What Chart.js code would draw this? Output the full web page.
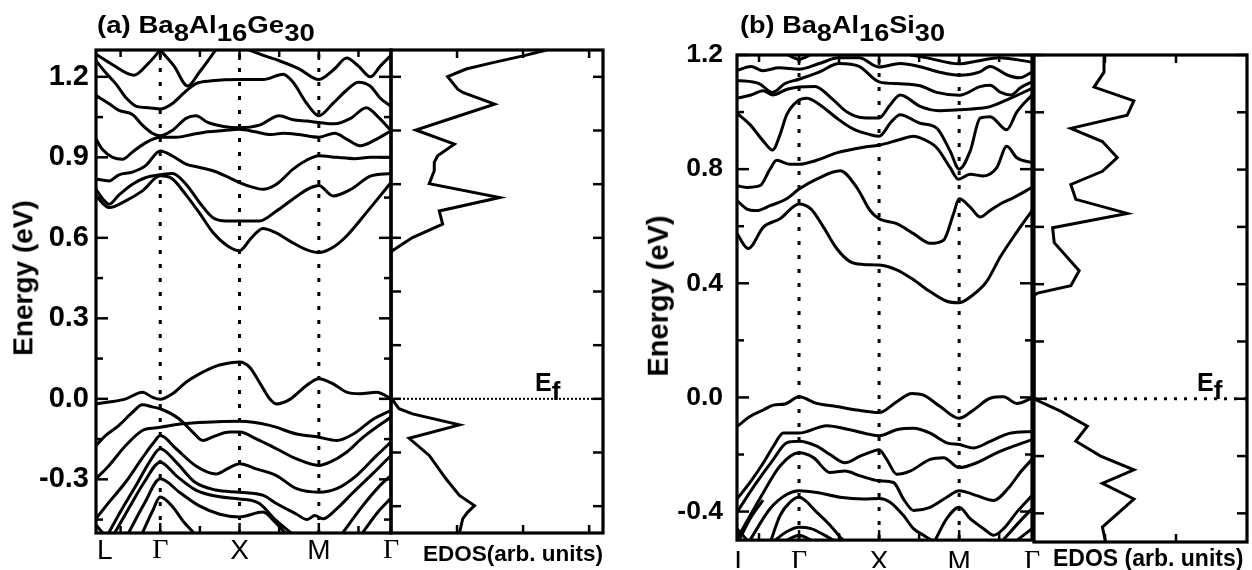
<!DOCTYPE html>
<html><head><meta charset="utf-8">
<script src="https://cdn.jsdelivr.net/npm/chart.js@4.4.0/dist/chart.umd.min.js"></script>
<style>
html,body{margin:0;padding:0;background:#fff}
#root{position:relative;width:1252px;height:570px;overflow:hidden;background:#fff;font-family:"Liberation Sans",Arial,Helvetica,sans-serif;color:#000}
canvas{position:absolute;display:block}
.lbl{position:absolute;font-weight:bold;white-space:nowrap;line-height:1}
.sub{position:relative;top:8px}
.rot{position:absolute;font-weight:bold;white-space:nowrap;line-height:1.117;transform:translate(-50%,-50%) rotate(-90deg)}
</style></head><body><div id="root">
<canvas id="cBandA" width="430" height="570" style="left:0;top:0"></canvas>
<canvas id="cDosA" width="240" height="570" style="left:380px;top:0"></canvas>
<canvas id="cBandB" width="430" height="570" style="left:630px;top:0"></canvas>
<canvas id="cDosB" width="232" height="570" style="left:1020px;top:0"></canvas>

<div class="lbl" style="left:97px;top:13px;font-size:24px;transform:scaleX(1.15);transform-origin:0 0">(a) Ba<span class="sub">8</span>Al<span class="sub">16</span>Ge<span class="sub">30</span></div>
<div class="lbl" style="left:740px;top:13px;font-size:24px;transform:scaleX(1.13);transform-origin:0 0">(b) Ba<span class="sub">8</span>Al<span class="sub">16</span>Si<span class="sub">30</span></div>
<div class="rot" style="left:23px;top:278px;font-size:28px">Energy (eV)</div>
<div class="rot" style="left:658px;top:296px;font-size:29px">Energy (eV)</div>
<div class="lbl" style="left:423px;top:543px;font-size:22.5px">EDOS(arb. units)</div>
<div class="lbl" style="left:1053px;top:547px;font-size:23px">EDOS (arb. units)</div>
<div class="lbl" style="left:535px;top:369px;font-size:25px">E<span style="position:relative;top:9px;font-size:26px">f</span></div>
<div class="lbl" style="left:1197px;top:369px;font-size:25px">E<span style="position:relative;top:8px;font-size:26px">f</span></div>
</div>
<script>
// ---------- shared axis data ----------
const hsLabels = ['L','Γ','X','M','Γ'];
const hsA = [-1.62, 0, 2, 4, 5.82];          // k of L, Γ, X, M, Γ (panel a)
const hsB = [-1.55, 0, 2, 4, 5.82];          // panel b
const labelPosA = [-1.4, 0, 2, 4, 5.82];
const labelPosB = [-1.42, 0, 2, 4, 5.82];
const kTicks = [-1, 0, 1, 2, 3, 4, 5];
const kMajor = [0, 2, 4];
const yTicksA = [-0.45,-0.3,-0.15,0,0.15,0.3,0.45,0.6,0.75,0.9,1.05,1.2];
const yLabelsA = [-0.3,0,0.3,0.6,0.9,1.2];
const yTicksB = [-0.4,-0.2,0,0.2,0.4,0.6,0.8,1.0,1.2];
const yLabelsB = [-0.4,0,0.4,0.8,1.2];
const edosYTicks = [-0.4,-0.2,0,0.2,0.4,0.6,0.8,1.0,1.2];
const edosXTicksA = [1,2,3];
const edosXTicksB = [1,2];

// ---------- panel (a) Ba8Al16Ge30 bands : [k, E(eV)] ----------
const conductionA = [
 [[-1.62,0.756],[-1.29,0.713],[-0.87,0.738],[-0.45,0.775],[0,0.831],[0.3,0.82],[0.65,0.76],[1.0,0.69],[1.33,0.62],[1.7,0.57],[2.0,0.552],[2.3,0.60],[2.59,0.635],[2.9,0.62],[3.3,0.585],[3.7,0.555],[4.0,0.545],[4.36,0.565],[4.7,0.607],[5.2,0.694],[5.82,0.806]],
 [[-1.62,0.781],[-1.45,0.745],[-1.29,0.725],[-1.04,0.76],[-0.70,0.80],[-0.36,0.825],[0,0.835],[0.31,0.84],[0.65,0.80],[1.0,0.73],[1.33,0.675],[1.66,0.663],[2.0,0.663],[2.5,0.663],[2.93,0.70],[3.35,0.745],[3.77,0.785],[4.0,0.795],[4.36,0.756],[4.8,0.78],[5.3,0.83],[5.82,0.84]],
 [[-1.62,0.819],[-1.29,0.812],[-1.04,0.835],[-0.7,0.845],[-0.36,0.87],[0,0.924],[0.31,0.905],[0.65,0.875],[1.0,0.862],[1.33,0.85],[1.66,0.83],[2.0,0.806],[2.3,0.79],[2.59,0.781],[2.93,0.80],[3.35,0.856],[3.7,0.89],[4.0,0.906],[4.45,0.90],[4.9,0.895],[5.3,0.90],[5.82,0.90]],
 [[-1.62,0.968],[-1.46,0.93],[-1.2,0.90],[-0.95,0.893],[-0.7,0.92],[-0.36,0.955],[0,0.975],[0.4,0.975],[0.8,0.985],[1.2,0.995],[1.6,1.0],[2.0,1.005],[2.4,0.995],[2.8,0.985],[3.1,0.99],[3.5,0.985],[4.0,0.975],[4.4,0.99],[4.7,0.968],[5.04,0.943],[5.46,0.968],[5.82,0.999]],
 [[-1.62,1.13],[-1.29,1.10],[-1.04,1.075],[-0.70,1.06],[-0.45,1.02],[-0.2,0.99],[0,0.98],[0.3,1.0],[0.65,1.045],[0.9,1.055],[1.2,1.03],[1.6,1.015],[2.0,1.01],[2.5,1.02],[3.0,1.055],[3.35,1.04],[3.7,1.035],[4.0,1.03],[4.4,1.025],[4.8,1.045],[5.2,1.085],[5.5,1.05],[5.82,1.0]],
 [[-1.62,1.26],[-1.4,1.22],[-1.1,1.17],[-0.85,1.12],[-0.6,1.09],[-0.3,1.085],[0,1.08],[0.3,1.10],[0.6,1.14],[0.9,1.175],[1.3,1.185],[2.0,1.19],[2.6,1.19],[3.1,1.21],[3.35,1.18],[3.7,1.10],[4.0,1.055],[4.35,1.10],[4.7,1.15],[5.0,1.18],[5.3,1.165],[5.55,1.12],[5.82,1.09]],
 [[-1.62,1.284],[-1.2,1.245],[-0.66,1.206],[-0.3,1.25],[0,1.30]],
 [[0,1.30],[0.35,1.24],[0.69,1.166],[1.0,1.22],[1.35,1.29],[1.5,1.32]],
 [[1.9,1.32],[2.6,1.28],[3.0,1.26],[3.5,1.23],[4.0,1.19],[4.4,1.23],[4.7,1.27],[5.0,1.24],[5.3,1.20],[5.55,1.24],[5.82,1.28]]
];
const valenceA = [
 [[-1.62,-0.019],[-1.29,-0.012],[-0.87,0.0],[-0.45,0.025],[-0.2,0.006],[0,-0.002],[0.31,0.019],[0.65,0.062],[0.99,0.093],[1.41,0.122],[1.83,0.135],[2.0,0.137],[2.25,0.118],[2.5,0.062],[2.76,0.0],[2.93,-0.019],[3.27,-0.002],[3.69,0.05],[4.0,0.075],[4.36,0.056],[4.7,0.025],[5.04,0.019],[5.46,0.025],[5.82,0.0]],
 [[-1.62,-0.174],[-1.38,-0.137],[-1.04,-0.099],[-0.7,-0.05],[-0.45,-0.022],[-0.2,-0.03],[0,-0.037],[0.48,-0.075],[0.82,-0.124],[1.07,-0.155],[1.41,-0.137],[1.75,-0.124],[2.0,-0.124],[2.42,-0.149],[2.93,-0.186],[3.44,-0.224],[4.0,-0.248],[4.28,-0.236],[4.7,-0.199],[5.12,-0.143],[5.82,-0.068]],
 [[-1.62,-0.298],[-1.29,-0.248],[-0.87,-0.174],[-0.45,-0.118],[-0.1,-0.108],[0,-0.106],[0.56,-0.093],[1.16,-0.087],[2.0,-0.084],[2.76,-0.099],[3.44,-0.131],[4.0,-0.143],[4.45,-0.155],[4.87,-0.131],[5.38,-0.075],[5.82,-0.043]],
 [[-1.62,-0.447],[-1.29,-0.385],[-0.87,-0.31],[-0.45,-0.22],[-0.15,-0.16],[0,-0.137],[0.4,-0.186],[0.9,-0.25],[1.41,-0.28],[1.75,-0.256],[2.0,-0.242],[2.42,-0.261],[2.93,-0.286],[3.44,-0.335],[4.0,-0.348],[4.45,-0.335],[4.95,-0.286],[5.46,-0.211],[5.82,-0.161]],
 [[-1.3,-0.5],[-1.0,-0.42],[-0.6,-0.32],[-0.25,-0.23],[0,-0.186],[0.4,-0.236],[0.87,-0.31],[1.4,-0.34],[2.0,-0.348],[2.6,-0.36],[2.93,-0.39],[3.44,-0.43],[3.7,-0.45],[3.9,-0.435],[4.1,-0.447],[4.45,-0.41],[4.87,-0.348],[5.38,-0.276],[5.82,-0.211]],
 [[-1.15,-0.5],[-0.8,-0.41],[-0.4,-0.31],[0,-0.236],[0.4,-0.286],[0.9,-0.34],[1.5,-0.365],[2.0,-0.373],[2.5,-0.39],[2.9,-0.45],[3.3,-0.5]],
 [[-0.8,-0.5],[-0.4,-0.39],[0,-0.298],[0.5,-0.35],[1.0,-0.40],[1.5,-0.43],[2.0,-0.44],[2.59,-0.422],[2.9,-0.46],[3.15,-0.5]],
 [[-0.45,-0.5],[-0.2,-0.42],[0,-0.366],[0.3,-0.40],[0.6,-0.46],[0.85,-0.5]],
 [[4.6,-0.5],[5.1,-0.4],[5.5,-0.33],[5.82,-0.285]],
 [[5.1,-0.5],[5.5,-0.42],[5.82,-0.37]],
 [[-1.62,-0.47],[-1.45,-0.5]]
];

// ---------- panel (b) Ba8Al16Si30 bands : [k, E(eV)] ----------
const conductionB = [
 [[-1.55,0.574],[-1.27,0.522],[-0.89,0.597],[-0.475,0.626],[0,0.678],[0.3,0.66],[0.61,0.597],[0.94,0.522],[1.275,0.476],[1.6,0.466],[2.0,0.464],[2.44,0.447],[2.86,0.412],[3.28,0.37],[3.69,0.337],[4.0,0.332],[4.35,0.36],[4.69,0.407],[5.03,0.493],[5.36,0.563],[5.82,0.655]],
 [[-1.55,0.69],[-1.31,0.661],[-1.06,0.655],[-0.725,0.672],[-0.31,0.696],[0,0.73],[0.44,0.765],[1.03,0.794],[1.44,0.736],[1.775,0.655],[2.0,0.626],[2.44,0.609],[2.86,0.574],[3.28,0.54],[3.61,0.551],[3.86,0.644],[4.0,0.696],[4.275,0.667],[4.525,0.632],[4.775,0.655],[5.025,0.678],[5.36,0.70],[5.82,0.736]],
 [[-1.55,0.742],[-1.31,0.736],[-0.975,0.742],[-0.725,0.80],[-0.56,0.831],[-0.225,0.817],[0,0.817],[0.44,0.831],[0.94,0.857],[1.61,0.877],[2.0,0.884],[2.525,0.904],[2.86,0.915],[3.1,0.905],[3.44,0.875],[3.775,0.805],[3.98,0.765],[4.275,0.782],[4.61,0.776],[4.94,0.805],[5.19,0.88],[5.44,0.84],[5.82,0.823]],
 [[-1.55,0.996],[-1.225,0.956],[-0.89,0.898],[-0.66,0.867],[-0.475,0.921],[-0.31,0.99],[-0.06,1.036],[0.19,1.048],[0.525,1.025],[0.94,0.979],[1.36,0.94],[1.775,0.921],[2.0,0.915],[2.3,0.965],[2.525,0.991],[3.025,0.961],[3.44,0.944],[3.775,0.863],[4.0,0.80],[4.275,0.863],[4.525,0.979],[4.775,0.984],[5.19,0.938],[5.44,1.0],[5.82,1.06]],
 [[-1.55,1.048],[-1.2,1.06],[-0.9,1.075],[-0.66,1.06],[-0.3,1.08],[0,1.088],[0.4,1.09],[0.8,1.05],[1.2,1.0],[1.6,0.98],[2.0,0.979],[2.25,1.02],[2.525,1.06],[3.025,1.02],[3.5,1.005],[4.0,1.008],[4.525,1.013],[4.775,1.019],[5.275,1.048],[5.82,1.083]],
 [[-1.55,1.111],[-1.0,1.10],[-0.66,1.069],[-0.35,1.10],[0,1.115],[0.5,1.14],[1.0,1.17],[1.5,1.16],[2.0,1.106],[2.525,1.099],[3.025,1.092],[3.44,1.069],[4.0,1.059],[4.525,1.089],[4.775,1.094],[5.025,1.07],[5.3,1.06],[5.53,1.085],[5.82,1.106]],
 [[-1.55,1.146],[-1.2,1.16],[-0.9,1.145],[-0.5,1.155],[0,1.15],[0.5,1.17],[1.0,1.19],[1.5,1.19],[2.0,1.158],[2.525,1.17],[3.0,1.16],[3.5,1.14],[4.0,1.129],[4.5,1.14],[4.775,1.16],[5.2,1.13],[5.5,1.12],[5.82,1.14]],
 [[-0.4,1.21],[0,1.185],[0.4,1.21]],
 [[2.4,1.21],[3.2,1.19],[4.0,1.169],[4.5,1.18],[5.0,1.19],[5.82,1.175]]
];
const valenceB = [
 [[-1.55,-0.102],[-1.225,-0.067],[-0.89,-0.044],[-0.64,-0.027],[-0.35,-0.023],[0,0.002],[0.44,-0.021],[0.94,-0.032],[1.44,-0.044],[2.0,-0.053],[2.44,-0.015],[2.82,0.014],[3.11,0.008],[3.525,-0.032],[4.0,-0.073],[4.36,-0.044],[4.775,-0.003],[5.11,0.002],[5.44,-0.021],[5.82,-0.003]],
 [[-1.55,-0.356],[-1.225,-0.298],[-0.89,-0.229],[-0.64,-0.171],[-0.39,-0.125],[0,-0.125],[0.69,-0.099],[1.275,-0.113],[2.0,-0.134],[2.44,-0.113],[2.86,-0.108],[3.275,-0.125],[3.69,-0.159],[4.0,-0.165],[4.36,-0.177],[4.775,-0.154],[5.275,-0.125],[5.82,-0.119]],
 [[-1.55,-0.402],[-1.06,-0.298],[-0.64,-0.217],[-0.31,-0.159],[0,-0.154],[0.44,-0.171],[0.775,-0.2],[1.15,-0.229],[1.525,-0.206],[1.86,-0.188],[2.0,-0.183],[2.19,-0.217],[2.44,-0.269],[2.775,-0.258],[3.275,-0.217],[3.61,-0.211],[4.0,-0.246],[4.44,-0.229],[4.94,-0.194],[5.36,-0.171],[5.82,-0.148]],
 [[-1.55,-0.495],[-0.89,-0.333],[-0.475,-0.24],[0,-0.194],[0.36,-0.211],[0.775,-0.263],[1.15,-0.258],[1.525,-0.275],[2.0,-0.292],[2.36,-0.298],[2.61,-0.356],[2.86,-0.396],[3.275,-0.385],[3.69,-0.35],[4.0,-0.327],[4.44,-0.344],[4.86,-0.361],[5.275,-0.31],[5.525,-0.263],[5.82,-0.217]],
 [[-1.225,-0.5],[-0.725,-0.39],[-0.31,-0.34],[0,-0.327],[0.44,-0.333],[1.025,-0.35],[1.61,-0.356],[2.0,-0.354],[2.275,-0.367],[2.61,-0.414],[2.86,-0.46],[3.11,-0.483],[3.3,-0.5]],
 [[3.4,-0.5],[3.69,-0.425],[4.0,-0.385],[4.275,-0.425],[4.61,-0.46],[4.86,-0.483],[5.11,-0.46],[5.44,-0.402],[5.82,-0.344]],
 [[-0.7,-0.5],[-0.475,-0.414],[-0.225,-0.367],[0,-0.35],[0.44,-0.402],[0.775,-0.448],[1.025,-0.489],[1.1,-0.5]],
 [[-0.6,-0.5],[-0.3,-0.47],[0,-0.455],[0.3,-0.46],[0.6,-0.48],[0.85,-0.5]],
 [[-0.3,-0.5],[0,-0.483],[0.3,-0.5]],
 [[-1.55,-0.46],[-1.3,-0.5]],
 [[-1.5,-0.5],[-1.2,-0.42],[-0.9,-0.36]],
 [[5.1,-0.5],[5.5,-0.437],[5.82,-0.39]],
 [[5.45,-0.5],[5.82,-0.46]]
];

// ---------- EDOS curves ----------
const edosA_E = [1.30,1.278,1.253,1.229,1.201,1.154,1.142,1.098,1.055,1.002,0.949,0.906,0.881,0.85,0.802,0.75,0.70,0.651,0.601,0.552,0.54,0.004,-0.037,-0.056,-0.097,-0.147,-0.211,-0.298,-0.36,-0.398,-0.422,-0.447,-0.50];
const edosA_D = [2.36,2.0,1.543,1.137,0.858,1.01,1.086,1.569,1.036,0.376,0.959,0.706,0.655,0.655,0.579,1.645,0.731,0.782,0.325,0.02,0,0,0.122,0.325,1.036,0.274,0.579,0.832,1.036,1.264,1.162,1.086,1.036];
const edosB_E = [1.2,1.14,1.088,1.04,0.99,0.944,0.898,0.842,0.794,0.748,0.696,0.647,0.597,0.545,0.447,0.395,0.369,0.36,0.0,-0.044,-0.096,-0.148,-0.2,-0.248,-0.295,-0.35,-0.448,-0.50];
const edosB_D = [0.986,0.986,0.846,1.407,1.313,0.519,0.963,1.173,0.963,0.519,0.589,1.313,0.262,0.285,0.636,0.519,0.05,0,0,0.379,0.752,0.589,0.939,1.407,0.963,1.407,0.963,1.009];

// ---------- drawing helpers ----------
const SANS = '"Liberation Sans", Arial, Helvetica, sans-serif';
const SERIF = '"Liberation Serif", "Times New Roman", serif';
const LINE_W = 3;
function seg(ctx,x1,y1,x2,y2){ctx.beginPath();ctx.moveTo(x1,y1);ctx.lineTo(x2,y2);ctx.stroke();}

function bandFrame(o){
  return {id:'bandFrame', afterDatasetsDraw(chart){
    const ctx=chart.ctx, a=chart.chartArea, xs=chart.scales.x, ys=chart.scales.y;
    ctx.save(); ctx.strokeStyle='#000'; ctx.lineCap='butt';
    ctx.lineWidth=3; ctx.setLineDash([4,10]);
    [o.hs[1],o.hs[2],o.hs[3]].forEach(k=>{const p=xs.getPixelForValue(k); seg(ctx,p,a.top+4,p,a.bottom);});
    ctx.setLineDash([]); ctx.lineWidth=2.5;
    o.yTicks.forEach(v=>{const p=ys.getPixelForValue(v); const L=o.yLabels.includes(v)?12:7;
      seg(ctx,a.left,p,a.left+L,p); seg(ctx,a.right,p,a.right-L,p);});
    kTicks.forEach(k=>{const p=xs.getPixelForValue(k); const L=kMajor.includes(k)?10:7;
      seg(ctx,p,a.top,p,a.top+L); seg(ctx,p,a.bottom,p,a.bottom-L);});
    ctx.lineWidth=3.2; ctx.strokeRect(a.left,a.top,a.right-a.left,a.bottom-a.top);
    ctx.restore();
  }};
}
function dosFrame(o){
  return {id:'dosFrame', afterDatasetsDraw(chart){
    const ctx=chart.ctx, a=chart.chartArea, xs=chart.scales.x, ys=chart.scales.y;
    ctx.save(); ctx.strokeStyle='#000';
    const p0=ys.getPixelForValue(0);
    ctx.lineWidth=o.efW; ctx.setLineDash(o.efDash); seg(ctx,a.left,p0,a.right,p0); ctx.setLineDash([]);
    ctx.lineWidth=2.5;
    edosYTicks.forEach(v=>{const p=ys.getPixelForValue(v); seg(ctx,a.left,p,a.left+10,p); seg(ctx,a.right,p,a.right-10,p);});
    o.xTicks.forEach(d=>{const p=xs.getPixelForValue(d); seg(ctx,p,a.top,p,a.top+8); seg(ctx,p,a.bottom,p,a.bottom-8);});
    ctx.lineWidth=3.2; ctx.strokeRect(a.left,a.top,a.right-a.left,a.bottom-a.top);
    ctx.restore();
  }};
}
function makeBand(id, bands, o){
  return new Chart(document.getElementById(id), {
    type:'scatter',
    data:{datasets: bands.map(b=>({data:b.map(p=>({x:p[0],y:p[1]})), showLine:true, borderColor:'#000', borderWidth:LINE_W,
      pointRadius:0, pointHoverRadius:0, cubicInterpolationMode:'monotone', fill:false, clip:0}))},
    options:{responsive:false, animation:false, events:[],
      layout:{padding:{left:0,right:o.padR,top:o.padT,bottom:0}},
      plugins:{legend:{display:false},tooltip:{enabled:false}},
      scales:{
        x:{type:'linear',min:o.hs[0],max:o.hs[4],grid:{display:false,drawTicks:false},border:{display:false},
          afterBuildTicks:s=>{s.ticks=o.labelPos.map(v=>({value:v}));},
          afterFit:s=>{s.height=o.xH;},
          ticks:{autoSkip:false,maxRotation:0,minRotation:0,padding:o.xPad,color:'#000',
            callback:(v,i)=>hsLabels[i],
            font:(c)=>({family: hsLabels[c.index]==='Γ'?SERIF:SANS, size:o.xFont})}},
        y:{type:'linear',min:o.ymin,max:o.ymax,grid:{display:false,drawTicks:false},border:{display:false},
          afterBuildTicks:s=>{s.ticks=o.yTicks.map(v=>({value:v}));},
          afterFit:s=>{s.width=o.yW;},
          ticks:{autoSkip:false,padding:o.yPad,color:'#000',font:{family:SANS,size:o.yFont,weight:'bold'},
            callback:v=>o.yLabels.includes(v)?v.toFixed(1):''}}
      }},
    plugins:[bandFrame(o)]
  });
}
function makeDos(id, D, E, o){
  return new Chart(document.getElementById(id), {
    type:'scatter',
    data:{datasets:[{data:D.map((d,i)=>({x:d,y:E[i]})), showLine:true, borderColor:'#000', borderWidth:LINE_W,
      pointRadius:0, pointHoverRadius:0, tension:0, fill:false, clip:0}]},
    options:{responsive:false, animation:false, events:[],
      layout:{padding:o.pad},
      plugins:{legend:{display:false},tooltip:{enabled:false}},
      scales:{x:{type:'linear',display:false,min:0,max:o.xmax}, y:{type:'linear',display:false,min:o.ymin,max:o.ymax}}},
    plugins:[dosFrame(o)]
  });
}

makeBand('cBandA', conductionA.concat(valenceA), {hs:hsA, labelPos:labelPosA, ymin:-0.5, ymax:1.3,
  yTicks:yTicksA, yLabels:yLabelsA, padR:39, padT:50, xH:37, yW:96, yPad:7, yFont:29, xFont:28, xPad:1});
makeDos('cDosA', edosA_D, edosA_E, {xmax:3.21, ymin:-0.5, ymax:1.3, xTicks:edosXTicksA,
  pad:{left:11,right:17,top:50,bottom:37}, efW:2, efDash:[2,2]});
makeBand('cBandB', conductionB.concat(valenceB), {hs:hsB, labelPos:labelPosB, ymin:-0.5, ymax:1.2,
  yTicks:yTicksB, yLabels:yLabelsB, padR:28, padT:55, xH:28, yW:107, yPad:14, yFont:26.5, xFont:28, xPad:5});
makeDos('cDosB', edosB_D, edosB_E, {xmax:3, ymin:-0.5, ymax:1.2, xTicks:edosXTicksB,
  pad:{left:14,right:5,top:55,bottom:28}, efW:3, efDash:[3,7]});
</script>
</body></html>
